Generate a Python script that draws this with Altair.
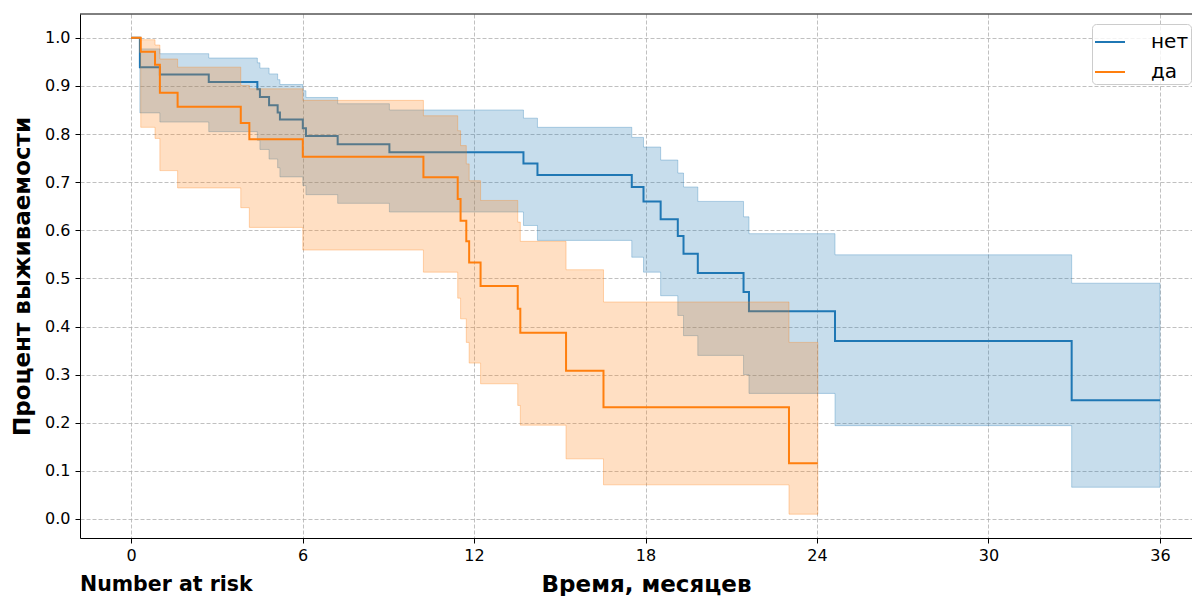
import altair as alt
import pandas as pd

groups = ["нет", "да"]
colors = ["#1f77b4", "#ff7f0e"]

# --- group "нет" (blue) ---
t_net = [0, 0.31, 1.01, 2.72, 4.42, 4.51, 4.83, 5.13, 5.21, 6.01, 6.12, 7.23, 9.04,
         13.73, 14.22, 17.52, 17.93, 18.53, 19.13, 19.33, 19.83, 21.43, 21.62, 24.63, 32.91, 36.0]
s_net = [1.0, 0.939, 0.924, 0.908, 0.893, 0.877, 0.860, 0.845, 0.830, 0.812, 0.796, 0.779, 0.762,
         0.739, 0.715, 0.690, 0.660, 0.623, 0.588, 0.551, 0.511, 0.472, 0.432, 0.370, 0.247, 0.247]
hi_net = [1.0, 0.977, 0.967, 0.958, 0.948, 0.937, 0.925, 0.913, 0.903, 0.890, 0.876, 0.863, 0.850,
          0.833, 0.814, 0.793, 0.773, 0.746, 0.719, 0.690, 0.660, 0.628, 0.593, 0.549, 0.490, 0.490]
lo_net = [1.0, 0.844, 0.825, 0.805, 0.787, 0.768, 0.748, 0.730, 0.711, 0.693, 0.674, 0.656, 0.638,
          0.610, 0.579, 0.544, 0.513, 0.464, 0.423, 0.381, 0.340, 0.300, 0.261, 0.194, 0.066, 0.066]

# --- group "да" (orange) ---
t_da = [0, 0.34, 0.84, 1.01, 1.63, 3.84, 4.14, 6.01, 10.23, 11.43, 11.53, 11.73, 11.83, 12.23,
        13.53, 13.62, 15.22, 16.53, 23.02, 24.03]
s_da = [1.0, 0.971, 0.944, 0.886, 0.857, 0.823, 0.789, 0.753, 0.710, 0.665, 0.620, 0.577, 0.533, 0.484,
        0.437, 0.387, 0.308, 0.232, 0.116, 0.116]
hi_da = [1.0, 0.996, 0.985, 0.956, 0.939, 0.901, 0.894, 0.870, 0.838, 0.807, 0.776, 0.738, 0.703, 0.662,
         0.617, 0.577, 0.518, 0.451, 0.367, 0.367]
lo_da = [1.0, 0.814, 0.791, 0.724, 0.688, 0.647, 0.606, 0.559, 0.513, 0.459, 0.416, 0.367, 0.324, 0.281,
         0.236, 0.195, 0.125, 0.071, 0.010, 0.010]

x_ticks = [0, 6, 12, 18, 24, 30, 36]
y_ticks = [0.0, 0.1, 0.2, 0.3, 0.4, 0.5, 0.6, 0.7, 0.8, 0.9, 1.0]
x_title = "Время, месяцев"
y_title = "Процент выживаемости"
note_text = "Number at risk"

rows = []
for g, t, s, lo, hi in [(groups[0], t_net, s_net, lo_net, hi_net),
                        (groups[1], t_da, s_da, lo_da, hi_da)]:
    for i in range(len(t)):
        rows.append({"group": g, "time": t[i], "surv": s[i], "lo": lo[i], "hi": hi[i]})
df = pd.DataFrame(rows)

W, H = 1112, 524
xscale = alt.Scale(domain=[-1.785, 37.12], nice=False, zero=False)
yscale = alt.Scale(domain=[-0.0395, 1.0495], nice=False, zero=False)

xaxis = alt.Axis(values=x_ticks, format="d", title=x_title, titleX=566, titlePadding=10,
                 labelPadding=4, labelFlush=False)
yaxis = alt.Axis(values=y_ticks, format=".1f", title=y_title, titlePadding=10, labelPadding=5)

legend = alt.Legend(title=None, orient="none", legendX=1012, legendY=10,
                    symbolType="stroke", symbolSize=900, symbolStrokeWidth=2,
                    labelFontSize=20, labelFont="DejaVu Sans", labelColor="black",
                    padding=2, rowPadding=4, labelOffset=25,
                    fillColor="rgba(255,255,255,0.8)", strokeColor="#cccccc", cornerRadius=4)

base = alt.Chart(df)


def band(g, c):
    return base.transform_filter(alt.datum.group == g).mark_area(
        interpolate="step-after", fill=c, fillOpacity=0.25, stroke=c, strokeOpacity=0.3, strokeWidth=1
    ).encode(
        x=alt.X("time:Q", scale=xscale, axis=xaxis),
        y=alt.Y("lo:Q", scale=yscale, axis=yaxis),
        y2="hi:Q",
    )


def line(g):
    return base.transform_filter(alt.datum.group == g).mark_line(
        interpolate="step-after", strokeWidth=2
    ).encode(
        x=alt.X("time:Q", scale=xscale, axis=xaxis),
        y=alt.Y("surv:Q", scale=yscale, axis=yaxis),
        color=alt.Color("group:N", scale=alt.Scale(domain=groups, range=colors), legend=legend),
    )


top_spine = alt.Chart(pd.DataFrame({"k": [0]})).mark_rule(color="black", strokeWidth=1).encode(
    x=alt.value(0), x2=alt.value(W), y=alt.value(0)
)

note = alt.Chart(pd.DataFrame({"label": [note_text]})).mark_text(
    align="left", baseline="alphabetic", fontSize=20.5, fontWeight="bold",
    font="DejaVu Sans", color="black"
).encode(x=alt.value(0), y=alt.value(577), text="label:N")

chart = alt.layer(
    band(groups[0], colors[0]), line(groups[0]),
    band(groups[1], colors[1]), line(groups[1]),
    top_spine, note,
).properties(
    width=W, height=H,
    autosize=alt.AutoSizeParams(type="none"),
    padding={"left": 72, "top": 6, "right": 0, "bottom": 58},
).configure_view(
    stroke=None
).configure_axis(
    grid=True, gridColor="#b0b0b0", gridDash=[4, 2], gridWidth=0.8,
    domainColor="black", domainWidth=1, tickColor="black", tickSize=5, tickWidth=1,
    labelFont="DejaVu Sans", labelFontSize=16, labelColor="black",
    titleFont="DejaVu Sans", titleFontSize=23, titleFontWeight="bold", titleColor="black",
)

chart.save("out.html", embed_options={"renderer": "svg", "actions": False})
